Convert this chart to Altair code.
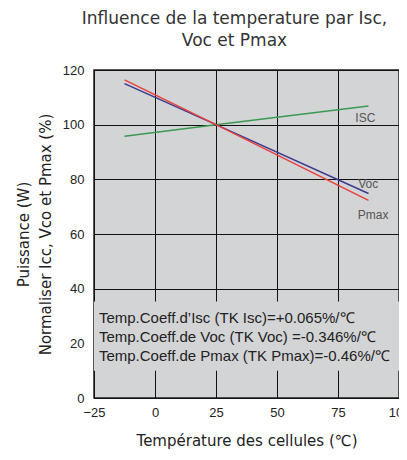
import altair as alt
import pandas as pd

# Data
temps = [-12.5, 25, 87.5]
isc = [95.8, 100, 106.8]
voc = [115.0, 100, 74.8]
pmax = [116.4, 100, 72.3]
series_names = ["ISC", "Voc", "Pmax"]
series_colors = ["#3a9a4e", "#3b3b8f", "#e8403a"]

label_x = [86.2, 87.4, 89.4]
label_y = [102.5, 78.2, 66.9]

notes = [
    "Temp.Coeff.d\u2019Isc (TK Isc)=+0.065%/\u2103",
    "Temp.Coeff.de Voc (TK Voc) =-0.346%/\u2103",
    "Temp.Coeff.de Pmax (TK Pmax)=-0.46%/\u2103",
]
note_y = [29.1, 22.5, 15.3]
note_x = -23.0
box_y = [10, 35.3]

x_ticks = [-25 + 12.5 * i for i in range(11)]
y_ticks = [10 * i for i in range(13)]

rows = []
for name, vals in zip(series_names, [isc, voc, pmax]):
    for t, v in zip(temps, vals):
        rows.append({"t": t, "v": v, "s": name})
df = pd.DataFrame(rows)

lab_df = pd.DataFrame({"x": label_x, "y": label_y, "s": series_names})
note_df = pd.DataFrame({"x": [note_x] * 3, "y": note_y, "txt": notes})
box_df = pd.DataFrame({"x": [-25], "x2": [100], "y": [box_y[0]], "y2": [box_y[1]]})

FONT = "Liberation Sans"
WIDE = "DejaVu Sans"

xscale = alt.Scale(domain=[-25, 100], nice=False)
yscale = alt.Scale(domain=[0, 120], nice=False)

xaxis = alt.Axis(
    values=x_ticks,
    labelExpr="datum.value % 25 == 0 ? datum.label : ''",
    grid=True, gridColor="#111", gridOpacity=1, gridWidth=1,
    ticks=False, domain=False, labelPadding=8,
    labelFlush=False, labelOverlap=False, labelBound=False,
    labelFont=FONT, labelFontSize=13, labelColor="#222",
    title="Température des cellules  (\u2103)", titleFont=WIDE, titleFontSize=15,
    titleFontWeight="normal", titleColor="#222", titlePadding=14,
)
yaxis = alt.Axis(
    values=y_ticks,
    labelExpr="datum.value % 20 == 0 ? datum.label : ''",
    grid=True, gridColor="#111", gridOpacity=1, gridWidth=1,
    ticks=False, domain=False, labelPadding=10,
    labelFlush=False, labelOverlap=False, labelBound=False,
    labelFont=FONT, labelFontSize=13, labelColor="#222",
    title=["Puissance  (W)", "Normaliser Icc, Vco et Pmax (%)"],
    titleFont=WIDE, titleFontSize=15, titleFontWeight="normal", titleColor="#222",
    titlePadding=9, titleLineHeight=22,
)

box = alt.Chart(box_df).mark_rect(color="#d3d4d6").encode(
    x=alt.X("x:Q", scale=xscale, axis=xaxis),
    x2="x2:Q",
    y=alt.Y("y:Q", scale=yscale, axis=yaxis),
    y2="y2:Q",
)

lines = alt.Chart(df).mark_line(strokeWidth=1.5).encode(
    x=alt.X("t:Q", scale=xscale),
    y=alt.Y("v:Q", scale=yscale),
    color=alt.Color("s:N", scale=alt.Scale(domain=series_names, range=series_colors), legend=None),
)

labels = alt.Chart(lab_df).mark_text(font=FONT, fontSize=12, color="#555", align="center", baseline="middle").encode(
    x=alt.X("x:Q", scale=xscale),
    y=alt.Y("y:Q", scale=yscale),
    text="s:N",
)

note_text = alt.Chart(note_df).mark_text(font=FONT, fontSize=15, color="#222", align="left", baseline="middle").encode(
    x=alt.X("x:Q", scale=xscale),
    y=alt.Y("y:Q", scale=yscale),
    text="txt:N",
)

chart = alt.layer(box, lines, labels, note_text).properties(
    width=305,
    height=328,
    title=alt.TitleParams(
        text=["Influence de la temperature par Isc,", "Voc et Pmax"],
        font=WIDE, fontSize=17, fontWeight="normal", color="#333",
        anchor="middle", offset=14, lineHeight=22, dx=-12,
    ),
    autosize=alt.AutoSizeParams(type="none"),
    padding={"left": 86, "top": 62, "right": 0, "bottom": 54},
).configure_view(
    fill="#d3d4d6", stroke="#222", strokeWidth=1.5,
)

chart.save("out.html", embed_options={"renderer": "svg", "actions": False})
